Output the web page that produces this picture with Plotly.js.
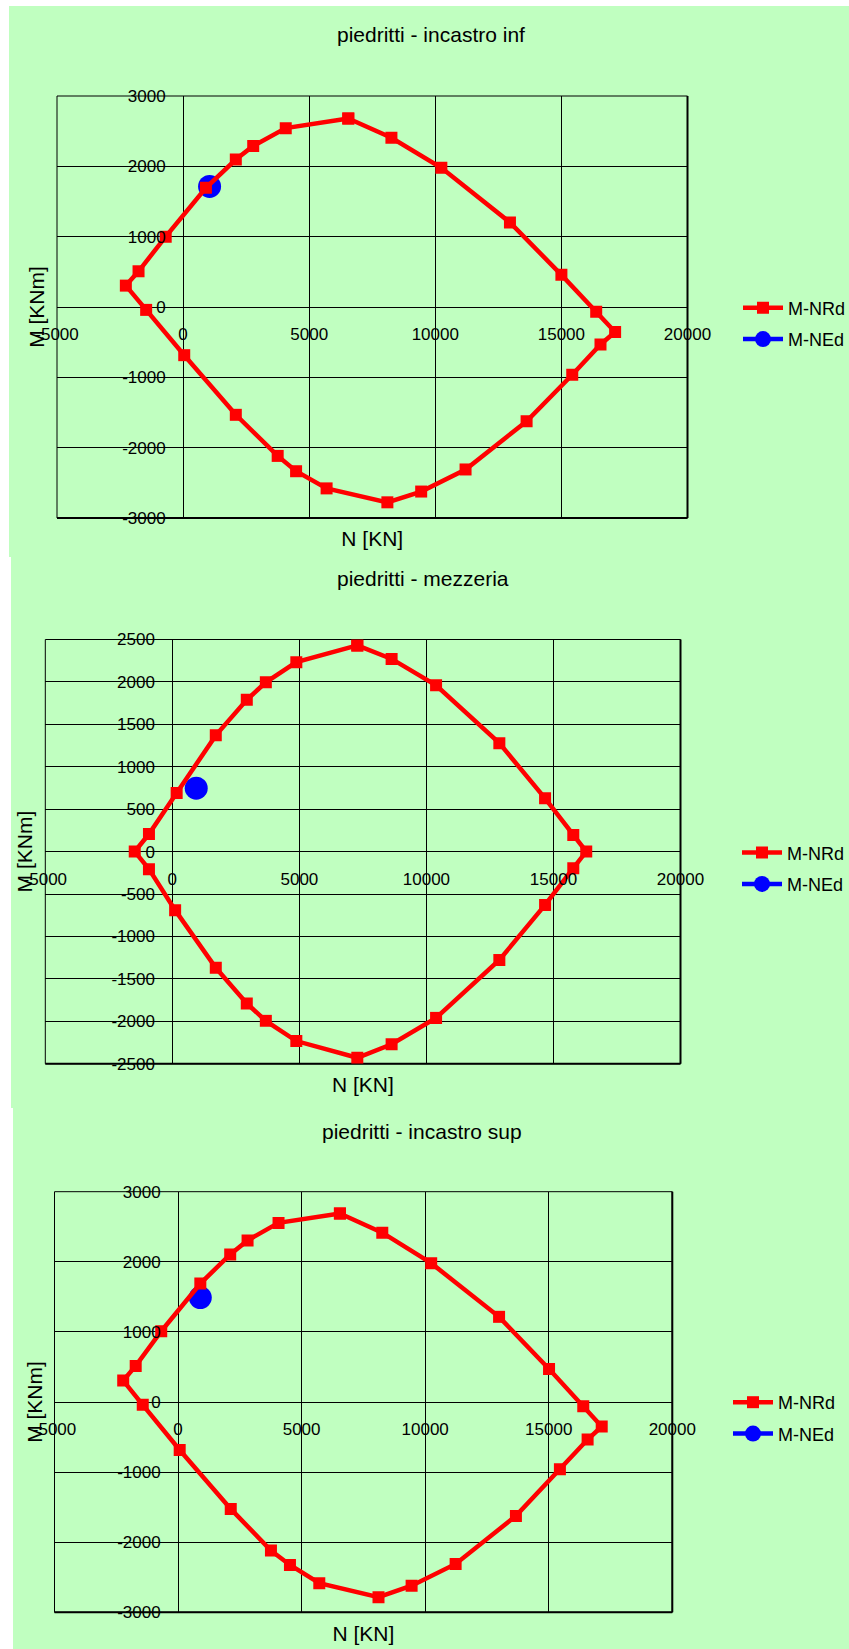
<!DOCTYPE html>
<html>
<head>
<meta charset="utf-8">
<script src="https://cdn.plot.ly/plotly-3.0.1.min.js"></script>
<style>
html,body{margin:0;padding:0;background:#ffffff;}
#chart{width:849px;height:1649px;}
</style>
</head>
<body>
<div id="chart"></div>
<script>
// ---------- DATA ----------
const panelTitles = ['piedritti - incastro inf', 'piedritti - mezzeria', 'piedritti - incastro sup'];
const seriesNames = ['M-NRd', 'M-NEd'];
const xTitle = 'N [KN]';
const yTitle = 'M [KNm]';

const nTicks = [-5000, 0, 5000, 10000, 15000, 20000];
const nTickLabels = ['-5000', '0', '5000', '10000', '15000', '20000'];
const mTicks3000 = [-3000, -2000, -1000, 0, 1000, 2000, 3000];
const mTickLabels3000 = ['-3000', '-2000', '-1000', '0', '1000', '2000', '3000'];
const mTicks2500 = [-2500, -2000, -1500, -1000, -500, 0, 500, 1000, 1500, 2000, 2500];
const mTickLabels2500 = ['-2500', '-2000', '-1500', '-1000', '-500', '0', '500', '1000', '1500', '2000', '2500'];

// piedritti - incastro inf : resisting domain M-NRd
const nrdInfN = [6550, 8260, 10240, 12960, 15000, 16380, 17130, 16550, 15430, 13620, 11200, 9440, 8100, 5690, 4480, 3750, 2090, 45, -1465, -2270, -1767, -690, 905, 2090, 2780, 4070, 6550];
const nrdInfM = [2680, 2406, 1980, 1203, 457, -66, -355, -533, -964, -1624, -2310, -2624, -2777, -2579, -2335, -2117, -1533, -685, -41, 304, 508, 1000, 1695, 2096, 2290, 2543, 2680];
const nedInfN = [1050];
const nedInfM = [1715];

// piedritti - mezzeria
const nrdMezN = [7280, 8630, 10380, 12870, 14670, 15780, 16290, 15780, 14670, 12870, 10380, 8630, 7280, 4880, 3680, 2930, 1710, 110, -920, -1480, -920, 170, 1710, 2930, 3680, 4880, 7280];
const nrdMezM = [2430, 2271, 1960, 1278, 628, 196, 0, -196, -628, -1278, -1960, -2271, -2430, -2233, -1995, -1790, -1370, -690, -207, 0, 207, 690, 1370, 1790, 1995, 2233, 2430];
const nedMezN = [940];
const nedMezM = [747];

// piedritti - incastro sup
const nrdSupN = [6550, 8264, 10243, 12990, 15012, 16397, 17144, 16573, 15452, 13672, 11232, 9451, 8111, 5715, 4528, 3759, 2132, 66, -1429, -2220, -1714, -681, 901, 2110, 2813, 4066, 6550];
const nrdSupM = [2690, 2415, 1980, 1215, 470, -60, -350, -535, -960, -1625, -2310, -2620, -2785, -2585, -2325, -2120, -1525, -685, -40, 305, 515, 1010, 1690, 2105, 2305, 2555, 2690];
const nedSupN = [900];
const nedSupM = [1490];

// ---------- LAYOUT ----------
const W = 849, H = 1649;
const fx = px => px / W;
const fy = py => 1 - py / H;
const FONT = 'Liberation Sans, Arial, Helvetica, sans-serif';
const GREEN = '#C0FFC0';

const panels = [
  {title: panelTitles[0], box: {l: 57, r: 687.5, t: 96, b: 518}, titleXY: [431.5, 34], legendX: 738, legendY: 323.5,
   mTicks: mTicks3000, mLabels: mTickLabels3000, mRange: [-3000, 3000],
   nrdN: nrdInfN, nrdM: nrdInfM, nedN: nedInfN, nedM: nedInfM},
  {title: panelTitles[1], box: {l: 45.3, r: 680.5, t: 639.5, b: 1063.7}, titleXY: [423, 578], legendX: 737, legendY: 868.3,
   mTicks: mTicks2500, mLabels: mTickLabels2500, mRange: [-2500, 2500],
   nrdN: nrdMezN, nrdM: nrdMezM, nedN: nedMezN, nedM: nedMezM},
  {title: panelTitles[2], box: {l: 54.5, r: 672.3, t: 1191.7, b: 1612.3}, titleXY: [422, 1131], legendX: 728, legendY: 1418,
   mTicks: mTicks3000, mLabels: mTickLabels3000, mRange: [-3000, 3000],
   nrdN: nrdSupN, nrdM: nrdSupM, nedN: nedSupN, nedM: nedSupM}
];

const nRange = [-5000, 20000];
const traces = [];
const layout = {
  width: W, height: H,
  margin: {l: 0, r: 0, t: 0, b: 0, autoexpand: false},
  paper_bgcolor: '#ffffff',
  plot_bgcolor: 'rgba(0,0,0,0)',
  font: {family: FONT, color: '#000000', size: 17},
  showlegend: true,
  shapes: [
    {type: 'rect', xref: 'paper', yref: 'paper', x0: fx(9), x1: 1, y0: fy(557), y1: fy(6), fillcolor: GREEN, line: {width: 0}, layer: 'below'},
    {type: 'rect', xref: 'paper', yref: 'paper', x0: fx(11), x1: 1, y0: fy(1108), y1: fy(557), fillcolor: GREEN, line: {width: 0}, layer: 'below'},
    {type: 'rect', xref: 'paper', yref: 'paper', x0: fx(13), x1: 1, y0: 0, y1: fy(1108), fillcolor: GREEN, line: {width: 0}, layer: 'below'}
  ],
  annotations: []
};

panels.forEach((p, i) => {
  const k = i + 1;
  const xid = k === 1 ? 'x' : 'x' + k;
  const yid = k === 1 ? 'y' : 'y' + k;
  const xkey = k === 1 ? 'xaxis' : 'xaxis' + k;
  const ykey = k === 1 ? 'yaxis' : 'yaxis' + k;
  const ok = k + 3;
  const xoid = 'x' + ok, yoid = 'y' + ok;
  const legendId = k === 1 ? 'legend' : 'legend' + k;
  const b = p.box;
  const xDom = [fx(b.l), fx(b.r)];
  const yDom = [fy(b.b), fy(b.t)];

  // main axes: grid + titles
  layout[xkey] = {
    domain: xDom, range: nRange, anchor: yid, fixedrange: true,
    tickvals: nTicks, showticklabels: false, ticks: '',
    showgrid: true, gridcolor: '#000000', gridwidth: 1, zeroline: false, showline: false,
    title: {text: xTitle, font: {size: 21}, standoff: 13}, automargin: false
  };
  layout[ykey] = {
    domain: yDom, range: p.mRange, anchor: xid, fixedrange: true,
    tickvals: p.mTicks, showticklabels: false, ticks: '',
    showgrid: true, gridcolor: '#000000', gridwidth: 1, zeroline: false, showline: false,
    title: {text: yTitle, font: {size: 21}, standoff: 5}, automargin: false
  };
  // overlay axes: tick labels along the zero lines (axes crossing at 0)
  const zeroYpx = (b.t + b.b) / 2;
  const zeroXpx = b.l + (0 - nRange[0]) / (nRange[1] - nRange[0]) * (b.r - b.l);
  layout['xaxis' + ok] = {
    overlaying: xid, anchor: 'free', position: fy(zeroYpx), side: 'bottom',
    range: nRange, fixedrange: true, tickvals: nTicks, ticktext: nTickLabels,
    showgrid: false, zeroline: false, showline: false,
    ticks: 'outside', ticklen: 12, tickcolor: 'rgba(0,0,0,0)', tickfont: {size: 17}, automargin: false
  };
  layout['yaxis' + ok] = {
    overlaying: yid, anchor: 'free', position: fx(zeroXpx), side: 'left',
    range: p.mRange, fixedrange: true, tickvals: p.mTicks, ticktext: p.mLabels,
    showgrid: false, zeroline: false, showline: false,
    ticks: 'outside', ticklen: 14, tickcolor: 'rgba(0,0,0,0)', tickfont: {size: 17}, automargin: false
  };

  layout[legendId] = {
    x: fx(p.legendX), xanchor: 'left', y: fy(p.legendY), yanchor: 'middle',
    bgcolor: 'rgba(0,0,0,0)', borderwidth: 0, font: {size: 18, family: FONT},
    tracegroupgap: 5, itemwidth: 40
  };

  // plot area border
  layout.shapes.push({type: 'rect', xref: xid + ' domain', yref: yid + ' domain', x0: 0, x1: 1, y0: 0, y1: 1, line: {color: '#000000', width: 1}, layer: 'below'});
  layout.shapes.push({type: 'line', xref: xid + ' domain', yref: yid + ' domain', x0: 0, x1: 1, y0: 0, y1: 0, line: {color: '#000000', width: 2}, layer: 'below'});
  layout.shapes.push({type: 'line', xref: xid + ' domain', yref: yid + ' domain', x0: 1, x1: 1, y0: 0, y1: 1, line: {color: '#000000', width: 2}, layer: 'below'});

  // panel title
  layout.annotations.push({text: p.title, xref: 'paper', yref: 'paper', x: fx(p.titleXY[0]), y: fy(p.titleXY[1]),
    xanchor: 'center', yanchor: 'middle', showarrow: false, font: {size: 21, family: FONT, color: '#000000'}});

  // dummy trace to host the overlay axes
  traces.push({x: [], y: [], xaxis: xoid, yaxis: yoid, type: 'scatter', mode: 'markers', showlegend: false, hoverinfo: 'skip'});

  // M-NEd (drawn below the resisting domain)
  traces.push({
    x: p.nedN, y: p.nedM, xaxis: xid, yaxis: yid, type: 'scatter', mode: 'lines+markers',
    name: seriesNames[1], legend: legendId, legendgroup: 'ned' + k, legendrank: 2,
    line: {color: '#0000FF', width: 4.5},
    marker: {symbol: 'circle', size: 23, color: '#0000FF'}
  });
  // M-NRd
  traces.push({
    x: p.nrdN, y: p.nrdM, xaxis: xid, yaxis: yid, type: 'scatter', mode: 'lines+markers',
    name: seriesNames[0], legend: legendId, legendgroup: 'nrd' + k, legendrank: 1,
    line: {color: '#FF0000', width: 4.5},
    marker: {symbol: 'square', size: 12, color: '#FF0000'}
  });
});

Plotly.newPlot('chart', traces, layout, {staticPlot: true, displayModeBar: false});
</script>
</body>
</html>
